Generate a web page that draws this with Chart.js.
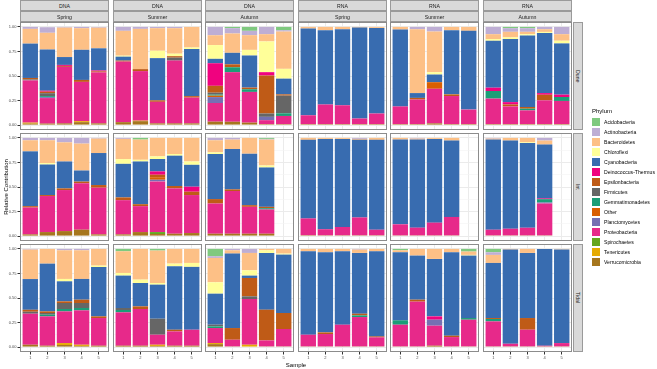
<!DOCTYPE html>
<html>
<head>
<meta charset="utf-8">
<script src="https://cdn.jsdelivr.net/npm/chart.js@4.4.1/dist/chart.umd.min.js"></script>
<style>
  body { margin: 0; background: #fff; font-family: "Liberation Sans", Arial, sans-serif; }
  #page { position: relative; width: 657px; height: 369px; overflow: hidden; background: #fff; }
  #page canvas { position: absolute; }
  .strip { position: absolute; box-sizing: border-box; background: #d9d9d9; border: 1px solid #9a9a9a;
           color: #1a1a1a; font-size: 5.2px; display: flex; align-items: center; justify-content: center; }
  .strip.side { writing-mode: vertical-rl; }
  .frame { position: absolute; box-sizing: border-box; border: 1px solid #8c8c8c; pointer-events: none; }
  .title { position: absolute; font-size: 6px; color: #000; white-space: nowrap; }
  .key { position: absolute; width: 8px; height: 8px; }
  .keytext { position: absolute; font-size: 5.1px; color: #000; white-space: nowrap; line-height: 8px; }
</style>
</head>
<body>
<div id="page"></div>
<script>
var phyla = ['Acidobacteria', 'Actinobacteria', 'Bacteroidetes', 'Chloroflexi', 'Cyanobacteria',
  'Deinococcus-Thermus', 'Epsilonbacteria', 'Firmicutes', 'Gemmatimonadetes', 'Other',
  'Planctomycetes', 'Proteobacteria', 'Spirochaetes', 'Tenericutes', 'Verrucomicrobia'];
var phylumColours = ['#7FC97F', '#BEAED4', '#FDC086', '#FFFF99', '#386CB0', '#F0027F', '#BF5B17', '#666666',
  '#1B9E77', '#D95F02', '#7570B3', '#E7298A', '#66A61E', '#E6AB02', '#A6761D'];
var samples = [1, 2, 3, 4, 5];
var yTicks = [0, 0.25, 0.5, 0.75, 1];
var yMinorTicks = [0.125, 0.375, 0.625, 0.875];
var nucleicAcid = ['DNA', 'DNA', 'DNA', 'RNA', 'RNA', 'RNA'];
var seasons = ['Spring', 'Summer', 'Autumn', 'Spring', 'Summer', 'Autumn'];
var sites = ['Dune', 'Int', 'Tidal'];

// relative contribution per phylum, one value per sample (phyla not listed are 0)
var duneDnaSpring = {
  'Actinobacteria':      [0.02, 0.057, 0.007, 0.013, 0.007],
  'Bacteroidetes':       [0.15, 0.17, 0.30, 0.22, 0.21],
  'Cyanobacteria':       [0.35, 0.42, 0.08, 0.307, 0.225],
  'Deinococcus-Thermus': [0, 0.01, 0.01, 0, 0.01],
  'Epsilonbacteria':     [0.015, 0.015, 0.01, 0.02, 0.01],
  'Firmicutes':          [0.01, 0.03, 0, 0, 0],
  'Gemmatimonadetes':    [0, 0.01, 0, 0, 0],
  'Planctomycetes':      [0, 0.01, 0, 0, 0],
  'Proteobacteria':      [0.43, 0.26, 0.576, 0.40, 0.52],
  'Tenericutes':         [0.01, 0, 0, 0.01, 0],
  'Verrucomicrobia':     [0.015, 0.015, 0.017, 0.03, 0.017]
};
var duneDnaSummer = {
  'Actinobacteria':  [0.04, 0.02, 0.013, 0.013, 0],
  'Bacteroidetes':   [0.253, 0.41, 0.23, 0.26, 0.21],
  'Chloroflexi':     [0.01, 0, 0.075, 0.025, 0.015],
  'Cyanobacteria':   [0.04, 0, 0.43, 0, 0.48],
  'Epsilonbacteria': [0.01, 0.02, 0.015, 0.015, 0.015],
  'Firmicutes':      [0, 0, 0, 0.03, 0],
  'Proteobacteria':  [0.617, 0.505, 0.22, 0.64, 0.263],
  'Tenericutes':     [0, 0.005, 0, 0, 0],
  'Verrucomicrobia': [0.03, 0.04, 0.017, 0.017, 0.017]
};
var duneDnaAutumn = {
  'Acidobacteria':       [0, 0.013, 0.04, 0, 0.034],
  'Actinobacteria':      [0.085, 0.054, 0.044, 0.074, 0.013],
  'Bacteroidetes':       [0.10, 0.197, 0.15, 0.074, 0.38],
  'Chloroflexi':         [0.14, 0, 0.057, 0.313, 0.10],
  'Cyanobacteria':       [0.045, 0.117, 0.327, 0, 0.16],
  'Deinococcus-Thermus': [0.23, 0, 0, 0.034, 0],
  'Epsilonbacteria':     [0.07, 0.03, 0.017, 0.387, 0.013],
  'Firmicutes':          [0.02, 0, 0, 0.034, 0.18],
  'Gemmatimonadetes':    [0.01, 0.05, 0.027, 0, 0.027],
  'Other':               [0.015, 0, 0, 0, 0],
  'Planctomycetes':      [0.06, 0, 0, 0.034, 0],
  'Proteobacteria':      [0.19, 0.505, 0.313, 0.04, 0.083],
  'Verrucomicrobia':     [0.035, 0.034, 0.025, 0.01, 0.01]
};
var duneRnaSpring = {
  'Bacteroidetes':   [0.017, 0.034, 0.024, 0.007, 0.01],
  'Cyanobacteria':   [0.883, 0.756, 0.774, 0.926, 0.872],
  'Proteobacteria':  [0.09, 0.2, 0.192, 0.057, 0.108],
  'Verrucomicrobia': [0.01, 0.01, 0.01, 0.01, 0.01]
};
var duneRnaSummer = {
  'Actinobacteria':  [0, 0.024, 0.047, 0, 0],
  'Bacteroidetes':   [0.027, 0.65, 0.414, 0.034, 0.04],
  'Chloroflexi':     [0, 0, 0.024, 0, 0],
  'Cyanobacteria':   [0.783, 0.049, 0.078, 0.653, 0.802],
  'Epsilonbacteria': [0, 0.017, 0, 0.017, 0],
  'Other':           [0, 0, 0.067, 0, 0],
  'Proteobacteria':  [0.18, 0.25, 0.353, 0.286, 0.148],
  'Verrucomicrobia': [0.01, 0.01, 0.017, 0.01, 0.01]
};
var duneRnaAutumn = {
  'Acidobacteria':       [0, 0.013, 0.013, 0, 0],
  'Actinobacteria':      [0.074, 0.037, 0.037, 0.024, 0.074],
  'Bacteroidetes':       [0.05, 0.057, 0.024, 0.027, 0.067],
  'Chloroflexi':         [0.017, 0.017, 0.013, 0.01, 0.027],
  'Cyanobacteria':       [0.478, 0.642, 0.729, 0.613, 0.522],
  'Deinococcus-Thermus': [0.034, 0.024, 0, 0.017, 0.024],
  'Epsilonbacteria':     [0, 0.02, 0.017, 0.057, 0],
  'Gemmatimonadetes':    [0.077, 0, 0.017, 0, 0.04],
  'Proteobacteria':      [0.26, 0.18, 0.14, 0.242, 0.236],
  'Verrucomicrobia':     [0.01, 0.01, 0.01, 0.01, 0.01]
};

var intDnaSpring = {
  'Actinobacteria':  [0.024, 0.024, 0.045, 0.058, 0.007],
  'Bacteroidetes':   [0.113, 0.233, 0.195, 0.274, 0.147],
  'Chloroflexi':     [0, 0.014, 0, 0, 0],
  'Cyanobacteria':   [0.558, 0.311, 0.274, 0.113, 0.326],
  'Epsilonbacteria': [0.014, 0.01, 0.017, 0.017, 0.027],
  'Proteobacteria':  [0.274, 0.367, 0.418, 0.473, 0.476],
  'Verrucomicrobia': [0.017, 0.041, 0.051, 0.065, 0.017]
};
var intDnaSummer = {
  'Acidobacteria':       [0, 0.017, 0, 0, 0],
  'Actinobacteria':      [0.01, 0, 0, 0, 0],
  'Bacteroidetes':       [0.206, 0.206, 0.188, 0.164, 0.24],
  'Chloroflexi':         [0.048, 0.017, 0.027, 0.017, 0.034],
  'Cyanobacteria':       [0.342, 0.435, 0.126, 0.309, 0.223],
  'Deinococcus-Thermus': [0, 0, 0.034, 0, 0.051],
  'Epsilonbacteria':     [0.028, 0.02, 0.025, 0.024, 0.034],
  'Other':               [0, 0, 0.026, 0, 0],
  'Planctomycetes':      [0, 0, 0.017, 0, 0],
  'Proteobacteria':      [0.349, 0.264, 0.516, 0.462, 0.387],
  'Spirochaetes':        [0, 0, 0.02, 0, 0],
  'Verrucomicrobia':     [0.017, 0.041, 0.021, 0.024, 0.031]
};
var intDnaAutumn = {
  'Acidobacteria':    [0, 0, 0, 0.01],
  'Actinobacteria':   [0.024, 0.017, 0, 0.007],
  'Bacteroidetes':    [0.123, 0.096, 0.161, 0.264],
  'Chloroflexi':      [0.017, 0, 0, 0.02],
  'Cyanobacteria':    [0.459, 0.411, 0.524, 0.401],
  'Epsilonbacteria':  [0.045, 0.017, 0.017, 0.014],
  'Gemmatimonadetes': [0, 0, 0, 0.013],
  'Proteobacteria':   [0.308, 0.435, 0.274, 0.247],
  'Verrucomicrobia':  [0.024, 0.024, 0.024, 0.024]
};
var intRnaSpring = {
  'Actinobacteria':  [0, 0, 0, 0.01, 0],
  'Bacteroidetes':   [0.02, 0.01, 0.01, 0.01, 0.02],
  'Cyanobacteria':   [0.8, 0.92, 0.897, 0.79, 0.915],
  'Proteobacteria':  [0.171, 0.062, 0.085, 0.182, 0.057],
  'Verrucomicrobia': [0.009, 0.008, 0.008, 0.008, 0.008]
};
var intRnaSummer = {
  'Actinobacteria':  [0, 0.007, 0, 0],
  'Bacteroidetes':   [0.017, 0.01, 0.01, 0.027],
  'Cyanobacteria':   [0.863, 0.897, 0.853, 0.778],
  'Proteobacteria':  [0.113, 0.079, 0.13, 0.188],
  'Verrucomicrobia': [0.007, 0.007, 0.007, 0.007]
};
var intRnaAutumn = {
  'Actinobacteria':      [0.007, 0, 0, 0.027],
  'Bacteroidetes':       [0.01, 0.027, 0.045, 0.041],
  'Chloroflexi':         [0, 0, 0.007, 0],
  'Cyanobacteria':       [0.918, 0.898, 0.863, 0.548],
  'Deinococcus-Thermus': [0, 0, 0, 0.008],
  'Gemmatimonadetes':    [0, 0, 0, 0.034],
  'Planctomycetes':      [0, 0, 0, 0.01],
  'Proteobacteria':      [0.058, 0.068, 0.078, 0.325],
  'Verrucomicrobia':     [0.007, 0.007, 0.007, 0.007]
};

var tidalDnaSpring = {
  'Actinobacteria':   [0.007, 0, 0.014, 0.014, 0],
  'Bacteroidetes':    [0.3, 0.15, 0.292, 0.292, 0.17],
  'Chloroflexi':      [0, 0, 0.024, 0, 0.014],
  'Cyanobacteria':    [0.313, 0.486, 0.204, 0.211, 0.503],
  'Epsilonbacteria':  [0.02, 0.017, 0.017, 0.034, 0.017],
  'Firmicutes':       [0.02, 0.017, 0.061, 0.051, 0],
  'Gemmatimonadetes': [0, 0.017, 0.024, 0.024, 0],
  'Proteobacteria':   [0.316, 0.299, 0.323, 0.35, 0.282],
  'Tenericutes':      [0, 0, 0.02, 0.012, 0],
  'Verrucomicrobia':  [0.024, 0.014, 0.021, 0.012, 0.014]
};
var tidalDnaSummer = {
  'Acidobacteria':    [0.024, 0, 0.017, 0, 0],
  'Bacteroidetes':    [0.221, 0.313, 0.33, 0.15, 0.143],
  'Chloroflexi':      [0.027, 0.034, 0.017, 0.027, 0.04],
  'Cyanobacteria':    [0.33, 0.238, 0.347, 0.646, 0.64],
  'Epsilonbacteria':  [0, 0.027, 0, 0.017, 0],
  'Firmicutes':       [0.02, 0, 0.163, 0, 0],
  'Gemmatimonadetes': [0.024, 0, 0, 0, 0],
  'Proteobacteria':   [0.34, 0.374, 0.102, 0.146, 0.163],
  'Tenericutes':      [0, 0, 0.012, 0, 0],
  'Verrucomicrobia':  [0.014, 0.014, 0.012, 0.014, 0.014]
};
var tidalDnaAutumn = {
  'Acidobacteria':    [0.075, 0, 0, 0, 0],
  'Actinobacteria':   [0.017, 0.014, 0.041, 0, 0],
  'Bacteroidetes':    [0.248, 0.034, 0.177, 0.014, 0.048],
  'Chloroflexi':      [0.116, 0, 0.054, 0.027, 0.01],
  'Cyanobacteria':    [0.316, 0.758, 0.024, 0.578, 0.595],
  'Epsilonbacteria':  [0, 0.119, 0.187, 0.313, 0.163],
  'Firmicutes':       [0.017, 0, 0.027, 0, 0],
  'Gemmatimonadetes': [0.017, 0, 0, 0, 0],
  'Proteobacteria':   [0.153, 0.068, 0.466, 0.061, 0.177],
  'Tenericutes':      [0.011, 0, 0.024, 0, 0],
  'Verrucomicrobia':  [0.03, 0.007, 0, 0.007, 0.007]
};
var tidalRnaSpring = {
  'Actinobacteria':   [0, 0, 0, 0.007, 0],
  'Bacteroidetes':    [0.024, 0.034, 0.024, 0.034, 0.024],
  'Cyanobacteria':    [0.85, 0.816, 0.748, 0.619, 0.867],
  'Epsilonbacteria':  [0, 0.017, 0, 0.017, 0.01],
  'Gemmatimonadetes': [0, 0, 0, 0.017, 0],
  'Proteobacteria':   [0.119, 0.126, 0.221, 0.299, 0.092],
  'Verrucomicrobia':  [0.007, 0.007, 0.007, 0.007, 0.007]
};
var tidalRnaSummer = {
  'Acidobacteria':       [0.014, 0, 0, 0, 0.027],
  'Bacteroidetes':       [0.02, 0.068, 0.102, 0.034, 0.034],
  'Chloroflexi':         [0, 0, 0, 0, 0.007],
  'Cyanobacteria':       [0.694, 0.449, 0.585, 0.85, 0.636],
  'Deinococcus-Thermus': [0, 0, 0.034, 0, 0],
  'Epsilonbacteria':     [0, 0.02, 0, 0.014, 0],
  'Gemmatimonadetes':    [0.044, 0, 0, 0, 0.017],
  'Planctomycetes':      [0, 0, 0.061, 0, 0],
  'Proteobacteria':      [0.221, 0.456, 0.204, 0.095, 0.272],
  'Verrucomicrobia':     [0.007, 0.007, 0.014, 0.007, 0.007]
};
var tidalRnaAutumn = {
  'Acidobacteria':    [0.034, 0, 0, 0, 0],
  'Actinobacteria':   [0.027, 0, 0, 0, 0],
  'Bacteroidetes':    [0.082, 0.007, 0.041, 0, 0.005],
  'Cyanobacteria':    [0.561, 0.959, 0.663, 0.986, 0.954],
  'Epsilonbacteria':  [0.01, 0, 0.119, 0, 0],
  'Gemmatimonadetes': [0.024, 0, 0, 0, 0],
  'Proteobacteria':   [0.255, 0.027, 0.17, 0.007, 0.034],
  'Verrucomicrobia':  [0.007, 0.007, 0.007, 0.007, 0.007]
};

var panels = [
  [duneDnaSpring, duneDnaSummer, duneDnaAutumn, duneRnaSpring, duneRnaSummer, duneRnaAutumn],
  [intDnaSpring, intDnaSummer, intDnaAutumn, intRnaSpring, intRnaSummer, intRnaAutumn],
  [tidalDnaSpring, tidalDnaSummer, tidalDnaAutumn, tidalRnaSpring, tidalRnaSummer, tidalRnaAutumn]
];

// layout
var colLefts = [20, 113, 205, 298, 390, 483];
var rowTops = [22, 133, 244];
var panelW = 89, panelH = 108;
var yAxisW = 20, xAxisH = 9;
var fontFamily = '"Liberation Sans", Arial, sans-serif';
var page = document.getElementById('page');

var gridValues = yTicks.concat(yMinorTicks).sort(function(a, b) { return a - b; });

function isMajor(v) {
  return yTicks.indexOf(v) >= 0;
}

function addDiv(cls, left, top, width, height, text) {
  var d = document.createElement('div');
  d.className = cls;
  d.style.left = left + 'px';
  d.style.top = top + 'px';
  if (width != null) d.style.width = width + 'px';
  if (height != null) d.style.height = height + 'px';
  if (text != null) d.textContent = text;
  page.appendChild(d);
  return d;
}

function drawPanel(r, c, table) {
  var firstCol = c === 0;
  var lastRow = r === sites.length - 1;
  var canvas = document.createElement('canvas');
  var w = panelW + (firstCol ? yAxisW : 0);
  var h = panelH + (lastRow ? xAxisH : 0);
  canvas.width = w;
  canvas.height = h;
  canvas.style.left = (colLefts[c] - (firstCol ? yAxisW : 0)) + 'px';
  canvas.style.top = rowTops[r] + 'px';
  canvas.style.width = w + 'px';
  canvas.style.height = h + 'px';
  page.appendChild(canvas);

  // ggplot stacks the first factor level on top, chart.js stacks the first dataset at the bottom
  var datasets = [];
  for (var k = phyla.length - 1; k >= 0; k--) {
    var vals = table[phyla[k]];
    if (!vals) continue;
    datasets.push({
      label: phyla[k],
      backgroundColor: phylumColours[k],
      borderWidth: 0,
      barPercentage: 0.9,
      categoryPercentage: 1,
      data: vals.map(function(v, i) { return { x: samples[i], y: v }; })
    });
  }

  new Chart(canvas, {
    type: 'bar',
    data: { datasets: datasets },
    options: {
      responsive: false,
      animation: false,
      layout: { padding: 0 },
      plugins: { legend: { display: false }, tooltip: { enabled: false } },
      scales: {
        x: {
          type: 'linear',
          stacked: true,
          min: 0.4,
          max: 5.6,
          offset: false,
          border: { display: false },
          grid: { offset: false, color: '#ebebeb', lineWidth: 1, drawTicks: lastRow, tickLength: 2.5, tickColor: '#333333' },
          ticks: { display: lastRow, autoSkip: false, maxRotation: 0, padding: 1, color: '#4d4d4d',
                   font: { size: 4, family: fontFamily },
                   callback: function(v) { return String(v); } },
          afterBuildTicks: function(s) { s.ticks = samples.map(function(v) { return { value: v }; }); },
          afterFit: function(s) {
            s.height = lastRow ? xAxisH : 0;
            s.paddingLeft = 0; s.paddingRight = 0;
          }
        },
        y: {
          stacked: true,
          min: -0.05,
          max: 1.05,
          border: { display: false },
          grid: {
            color: function(ctx) { return ctx.tick && isMajor(ctx.tick.value) ? '#ebebeb' : '#f4f4f4'; },
            lineWidth: function(ctx) { return ctx.tick && isMajor(ctx.tick.value) ? 1 : 0.6; },
            drawTicks: firstCol,
            tickLength: 2.5,
            tickColor: function(ctx) { return ctx.tick && isMajor(ctx.tick.value) ? '#333333' : 'rgba(0,0,0,0)'; }
          },
          ticks: { display: firstCol, autoSkip: false, padding: 1, color: '#4d4d4d',
                   font: { size: 4, family: fontFamily },
                   callback: function(v) { return isMajor(v) ? v.toFixed(2) : ''; } },
          afterBuildTicks: function(s) { s.ticks = gridValues.map(function(v) { return { value: v }; }); },
          afterFit: function(s) {
            s.width = firstCol ? yAxisW : 0;
            s.paddingTop = 0; s.paddingBottom = 0;
          }
        }
      }
    }
  });

  addDiv('frame', colLefts[c], rowTops[r], panelW, panelH);
}

for (var r = 0; r < sites.length; r++) {
  for (var c = 0; c < seasons.length; c++) {
    drawPanel(r, c, panels[r][c]);
  }
}

// facet strips
for (var c = 0; c < seasons.length; c++) {
  addDiv('strip', colLefts[c], 0, panelW, 11, nucleicAcid[c]);
  addDiv('strip', colLefts[c], 11, panelW, 11, seasons[c]);
}
for (var r = 0; r < sites.length; r++) {
  addDiv('strip side', 573, rowTops[r], 10, panelH, sites[r]);
}

// axis titles
var yTitle = addDiv('title', 5.5, 187, null, null, 'Relative Contribution');
yTitle.style.transform = 'translate(-50%, -50%) rotate(-90deg)';
var xTitle = addDiv('title', 296, 365, null, null, 'Sample');
xTitle.style.transform = 'translate(-50%, -50%)';

// legend
addDiv('title', 592, 107.5, null, null, 'Phylum');
for (var k = 0; k < phyla.length; k++) {
  var key = addDiv('key', 592, 117.5 + k * 10, null, null, null);
  key.style.background = phylumColours[k];
  addDiv('keytext', 604, 117.5 + k * 10, null, null, phyla[k]);
}
</script>
</body>
</html>
